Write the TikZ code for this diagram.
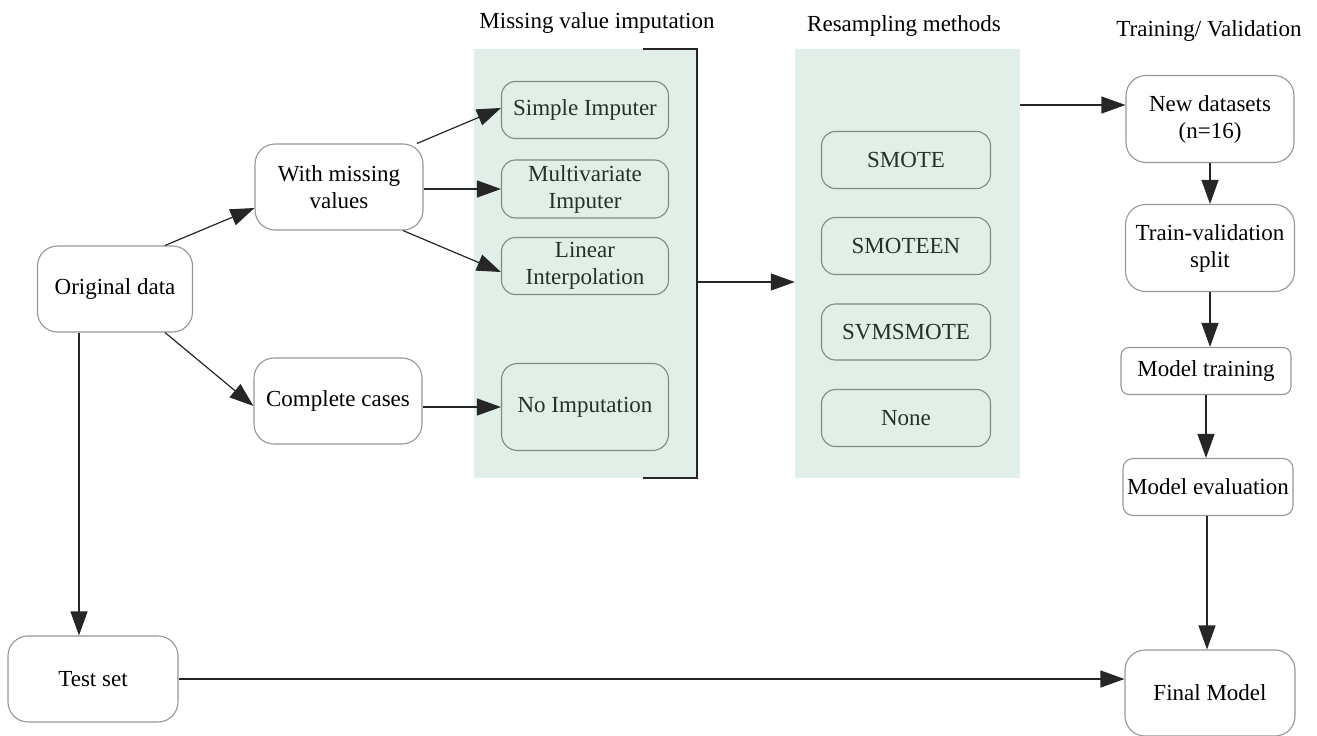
\documentclass[tikz,border=0pt]{standalone}
\usepackage{fontspec}
\setmainfont{Liberation Serif}
\usetikzlibrary{arrows.meta,calc}
\definecolor{panelgreen}{RGB}{226,239,232}
\definecolor{boxgray}{RGB}{150,150,150}
\definecolor{innerborder}{RGB}{125,140,125}
\definecolor{innertext}{RGB}{35,50,40}
\tikzset{
  box/.style={draw=boxgray, line width=1.1pt, rounded corners=20pt, fill=white, align=center, inner sep=0pt,
    font=\fontsize{23}{27}\selectfont},
  inbox/.style={draw=innerborder, line width=1.1pt, rounded corners=14pt, fill=panelgreen, align=center, inner sep=0pt,
    text=innertext, font=\fontsize{23}{27}\selectfont, minimum width=167pt, minimum height=57pt},
  panel/.style={fill=panelgreen, draw=none, inner sep=0pt},
  ttl/.style={anchor=base, font=\fontsize{23}{27}\selectfont},
  arr/.style={line width=1.2pt, draw=black!85, -{Triangle[length=24pt,width=17pt]}},
}
\begin{document}
\begin{tikzpicture}[x=1pt,y=-1pt]
\useasboundingbox (0,0) rectangle (1317,736);
% titles
\node[ttl] (t1) at (597,28) {Missing value imputation};
\node[ttl] (t2) at (904,31) {Resampling methods};
\node[ttl] (t3) at (1209,36) {Training/ Validation};
% panels
\node[panel, minimum width=223pt, minimum height=429pt] (p1) at (585.5,263.5) {};
\node[panel, minimum width=225pt, minimum height=429pt] (p2) at (907.5,263.5) {};
% bracket
\draw[line width=1.2pt, draw=black!85] (643,49) -- (697,49) -- (697,478) -- (643,478);
\coordinate (br) at (697,282);
% left nodes
\node[box, minimum width=155pt, minimum height=86pt] (orig) at (115,289) {Original data};
\node[box, minimum width=168pt, minimum height=86pt] (wm) at (339,187) {With missing\\values};
\node[box, minimum width=168pt, minimum height=86pt] (cc) at (338,401) {Complete cases};
\node[box, minimum width=170pt, minimum height=86pt] (ts) at (93,679) {Test set};
% imputation nodes
\node[inbox] (si) at (585,110) {Simple Imputer};
\node[inbox, minimum height=58pt] (mv) at (585,189) {Multivariate\\Imputer};
\node[inbox] (li) at (585,266) {Linear\\Interpolation};
\node[inbox, minimum height=87pt, rounded corners=16pt] (ni) at (585,407) {No Imputation};
% resampling nodes
\node[inbox, minimum width=169pt] (sm) at (906,160) {SMOTE};
\node[inbox, minimum width=169pt] (se) at (906,246) {SMOTEEN};
\node[inbox, minimum width=169pt, minimum height=56pt] (sv) at (906,332) {SVMSMOTE};
\node[inbox, minimum width=169pt] (no) at (906,418) {None};
% right column
\node[box, minimum width=168pt, minimum height=87pt] (nd) at (1210,119) {New datasets\\(n=16)};
\node[box, minimum width=169pt, minimum height=87pt] (tv) at (1210,248) {Train-validation\\split};
\node[box, minimum width=170pt, minimum height=47pt, rounded corners=8pt] (mt) at (1206,371) {Model training};
\node[box, minimum width=170pt, minimum height=57pt, rounded corners=10pt] (me) at (1208,487) {Model evaluation};
\node[box, minimum width=170pt, minimum height=86pt] (fm) at (1210,693) {Final Model};
% connectors
\draw[arr] ([xshift=50pt]orig.north) -- ([yshift=-21pt]wm.west);
\draw[arr] ([xshift=50pt]orig.south) -- ([yshift=-5pt]cc.west);
\draw[arr] ([xshift=-36pt]orig.south) -- ([xshift=-36pt]orig.south |- ts.north);
\draw[arr] ([xshift=78pt]wm.north) -- ([yshift=2pt]si.west);
\draw[arr] (wm.east |- mv.west) -- (mv.west);
\draw[arr] ([xshift=64pt]wm.south) -- ([yshift=-6pt]li.west);
\draw[arr] (cc.east |- ni.west) -- (ni.west);
\draw[arr] (br) -- (br -| p2.west);
\coordinate (ndin) at ([yshift=14pt]nd.west);
\draw[arr] (p2.east |- ndin) -- (ndin);
\draw[arr] (nd.south) -- (nd.south |- tv.north);
\draw[arr] (tv.south) -- (tv.south |- mt.north);
\draw[arr] (mt.south) -- (mt.south |- me.north);
\draw[arr] ([xshift=-1pt]me.south) -- ([xshift=-1pt]me.south |- fm.north);
\draw[arr] (ts.east) -- (ts.east -| fm.west);
\end{tikzpicture}
\end{document}
